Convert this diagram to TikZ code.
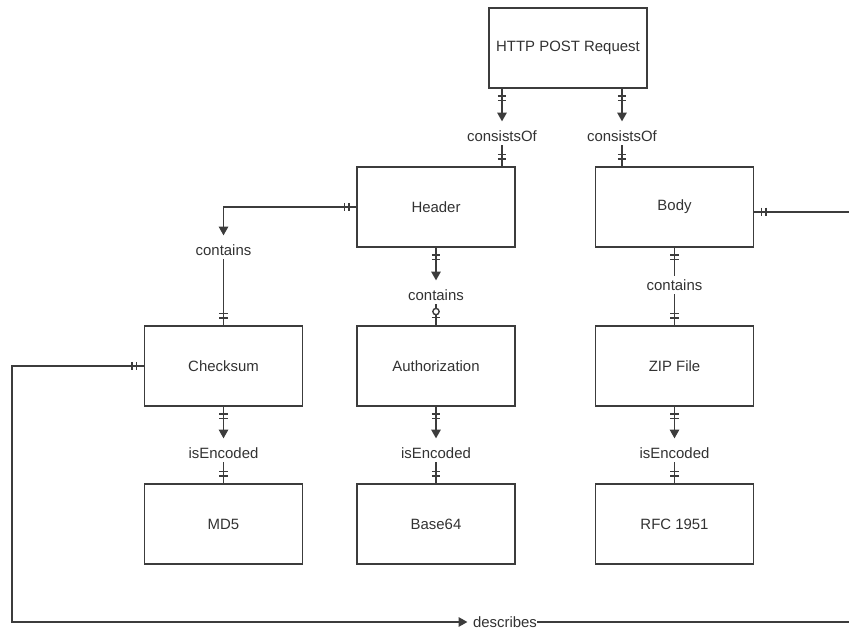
\documentclass[tikz,border=0pt]{standalone}
\usepackage{fontspec}
\setmainfont{Liberation Sans}
\usetikzlibrary{arrows.meta,decorations.markings}
\definecolor{linegray}{RGB}{60,60,60}
\definecolor{textgray}{RGB}{50,50,50}
\tikzset{
  ent/.style={draw=linegray, line width=0.85pt, minimum width=3.16cm, minimum height=1.6cm, inner sep=0pt, text=textgray},
  rel/.style={inner sep=0pt, minimum height=0.36cm, text=textgray},
  link/.style={draw=linegray, line width=0.8pt},
  tip/.style={-{Triangle[width=5.4pt,length=5pt]}, shorten >=3pt},
  bar/.style={-, solid, shorten >=0pt, shorten <=0pt, line width=0.8pt, draw=linegray},
  startone/.style={postaction={decorate, decoration={markings,
      mark=at position 4.2pt with {\draw[bar] (0pt,-2.4pt) -- (0pt,2.4pt);},
      mark=at position 6.6pt with {\draw[bar] (0pt,-2.4pt) -- (0pt,2.4pt);}}}},
  endone/.style={postaction={decorate, decoration={markings,
      mark=at position -6.6pt with {\draw[bar] (0pt,-2.4pt) -- (0pt,2.4pt);},
      mark=at position -4.2pt with {\draw[bar] (0pt,-2.4pt) -- (0pt,2.4pt);}}}},
  endzeroone/.style={postaction={decorate, decoration={markings,
      mark=at position -7.8pt with {\draw[bar, fill=white] (0pt,0pt) circle (1.8pt);},
      mark=at position -4.5pt with {\draw[bar] (0pt,-2.4pt) -- (0pt,2.4pt);}}}}
}

\begin{document}
\begin{tikzpicture}[x=0.02cm, y=-0.02cm, font=\fontsize{8.5pt}{10pt}\selectfont]
        \useasboundingbox (0,0) rectangle (849,628);
        %\draw[help lines, step=50] (0,0) grid (849,628);

        \node[ent] (http) at (568,48) {HTTP POST Request};
        \node[ent] (header) at (436,207) {Header};
        \node[ent] (body) at (674.5,207) {Body};
        \node[ent] (checksum) at (223.5,366) {Checksum};
        \node[ent] (auth) at (436,366) {Authorization};
        \node[ent] (zip) at (674.5,366) {ZIP File};
        \node[ent] (md5) at (223.5,524) {MD5};
        \node[ent] (base) at (436,524) {Base64};
        \node[ent] (rfc) at (674.5,524) {RFC 1951};

        \node[rel] (cons1) at (502,136) {consistsOf};
        \node[rel] (cons2) at (622,136) {consistsOf};
        \node[rel] (cont1) at (223.5,250) {contains};
        \node[rel] (cont2) at (436,295) {contains};
        \node[rel] (cont3) at (674.5,285) {contains};
        \node[rel] (enc1) at (223.5,453) {isEncoded};
        \node[rel] (enc2) at (436,453) {isEncoded};
        \node[rel] (enc3) at (674.5,453) {isEncoded};
        \node[rel] (desc) at (505,622) {describes};

        \coordinate (lft) at (12,622);
        \coordinate (rgt) at (853,622);

        % request
        \draw[link, startone, tip] (http.south -| cons1) -- (cons1.north);
        \draw[link, endone] (cons1.south) -- (cons1 |- header.north);
        \draw[link, startone, tip] (http.south -| cons2) -- (cons2.north);
        \draw[link, endone] (cons2.south) -- (cons2 |- body.north);

        % header and body
        \draw[link, startone, tip] (header.west) -| (cont1.north);
        \draw[link, endone] (cont1.south) -- (checksum.north);
        \draw[link, startone, tip] (header.south) -- (cont2.north);
        \draw[link, endzeroone] (cont2.south) -- (auth.north);
        \draw[link, startone] (body.south) -- (cont3.north);
        \draw[link, endone] (cont3.south) -- (zip.north);

        % encodings
        \draw[link, startone, tip] (checksum.south) -- (enc1.north);
        \draw[link, endone] (enc1.south) -- (md5.north);
        \draw[link, startone, tip] (auth.south) -- (enc2.north);
        \draw[link, endone] (enc2.south) -- (base.north);
        \draw[link, startone, tip] (zip.south) -- (enc3.north);
        \draw[link, endone] (enc3.south) -- (rfc.north);

        % checksum describes body
        \draw[link, startone, tip] (checksum.west) -| (lft) -- (desc.west);
        \draw[link, endone] (desc.east) -- (rgt) |- ([yshift=-2.8pt]body.east);
\end{tikzpicture}
\end{document}
